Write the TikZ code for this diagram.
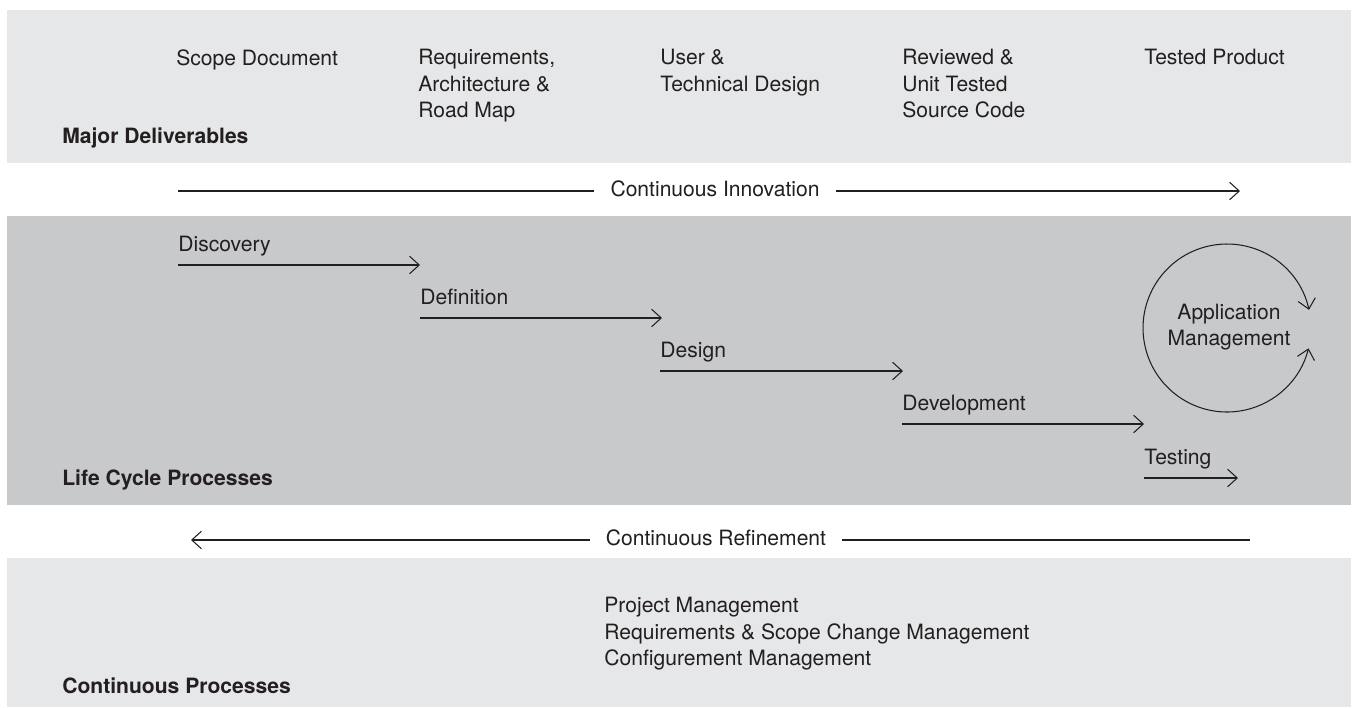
\documentclass[tikz,border=0pt]{standalone}
\usepackage{fontspec}
\setmainfont{TeX Gyre Heros}
\usetikzlibrary{arrows.meta,positioning}
\definecolor{bandlt}{RGB}{230,231,232}
\definecolor{banddk}{RGB}{200,201,203}
\definecolor{ink}{RGB}{35,31,32}

\begin{document}
\begin{tikzpicture}[x=0.02cm,y=-0.02cm,
  txt/.style={inner sep=0pt,text=ink,font=\fontsize{12}{15}\selectfont,align=left},
  head/.style={txt,font=\fontsize{12}{15}\selectfont\bfseries,anchor=base west},
  barb/.tip={Straight Barb[length=5.5pt,width=10pt]},
  arr/.style={draw=ink,line width=0.6pt,-barb}]

  \useasboundingbox (0,0) rectangle (1354,707);

  % bands
  \fill[bandlt] (7,10) rectangle (1351,163);
  \fill[banddk] (7,216) rectangle (1351,505);
  \fill[bandlt] (7,558) rectangle (1351,707);

  % band titles
  \node (md) [head] at (62,143) {Major Deliverables};
  \node (lcp) [head] at (62,485) {Life Cycle Processes};
  \node (cp) [head] at (62,693) {Continuous Processes};

  % deliverables
  \foreach \n/\x/\lbl in {dl1/176/{Scope Document},
                          dl2/418/{Requirements,\\Architecture \&\\Road Map},
                          dl3/660/{User \&\\Technical Design},
                          dl4/902/{Reviewed \&\\Unit Tested\\Source Code},
                          dl5/1144/{Tested Product}}{
    \node (\n) [txt,anchor=north west] at (\x,49) {\lbl};
  }

  % continuous innovation
  \node (ci) [txt,inner xsep=9pt] at (715,189) {Continuous Innovation};
  \coordinate (ci-s) at (178,191);
  \coordinate (ci-e) at (1240,191);
  \draw[ink,line width=0.6pt] (ci-s) -- (ci-s -| ci.west);
  \draw[arr] (ci-e -| ci.east) -- (ci-e);

  % life cycle phases
  \foreach \n/\lbl/\x/\y/\w in {ph1/Discovery/178/265/242,
                                ph2/Definition/420/318/242,
                                ph3/Design/660/371/243,
                                ph4/Development/902/424/242,
                                ph5/Testing/1144/478/94}{
    \node (\n) [txt,anchor=base west] at (\x,\y-14) {\lbl};
    \coordinate (\n-s) at (\x,\y);
    \coordinate (\n-e) at (\x+\w,\y);
    \draw[arr] (\n-s) -- (\n-e);
  }

  % application management loop
  \coordinate (amc) at (1227,328);
  \node (am) [txt,align=center,font=\fontsize{12}{14.5}\selectfont] at (1229,327) {Application\\Management};
  \draw[arr,barb-barb] (amc) ++(12.5:1.68cm) arc[start angle=12.5,end angle=346,radius=1.68cm];

  % continuous refinement
  \node (cr) [txt,inner xsep=9pt] at (716,538) {Continuous Refinement};
  \coordinate (cr-s) at (1250,540);
  \coordinate (cr-e) at (191,540);
  \draw[ink,line width=0.6pt] (cr-s) -- (cr-s -| cr.east);
  \draw[arr] (cr-e -| cr.west) -- (cr-e);

  % continuous processes
  \node (cpl) [txt,anchor=north west] at (604,597)
    {Project Management\\Requirements \& Scope Change Management\\Configurement Management};
\end{tikzpicture}
\end{document}
